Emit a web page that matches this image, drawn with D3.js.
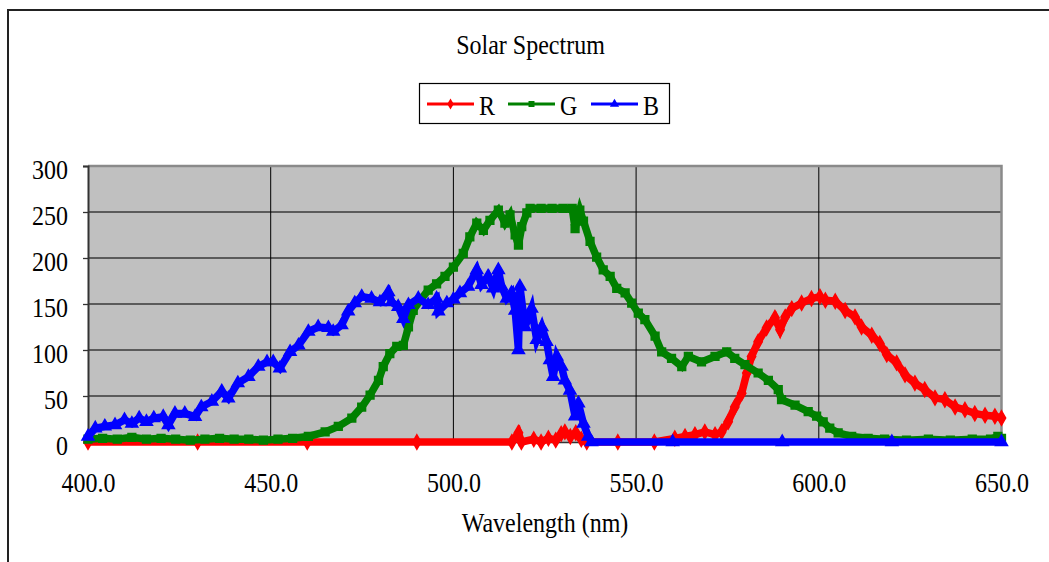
<!DOCTYPE html>
<html>
<head>
<meta charset="utf-8">
<script src="https://cdn.jsdelivr.net/npm/d3@7"></script>
<style>
body { margin: 0; background: #fff; }
svg text { font-family: "Liberation Serif", "Times New Roman", serif; fill: #000; }
</style>
</head>
<body>
<svg id="chart" width="1049" height="562"></svg>
<script>
// values (wavelength nm -> intensity)
const wlR = [400, 430, 460, 490, 516, 517.8, 518.6, 522, 524, 526, 528, 529.5, 530.5, 532, 533.5, 535, 536.5, 545, 555, 560.6, 563.4, 566.1, 568.8, 571.6, 573.4, 575.2, 577, 578.9, 580.3, 581.6, 583.4, 585.7, 588, 589.4, 590.8, 592.6, 595.3, 598, 600.3, 601.8, 604.5, 607.2, 609.9, 611.7, 614.5, 616.7, 618.6, 621.3, 623.6, 626.3, 629, 631.8, 634.5, 637.3, 640, 642.7, 645.5, 648.2, 650]
const valR = [0, 0, 0, 0, 0, 10, 0, 3, 0, 4, 2, 9, 11, 6, 10, 3, 0, 0, 0, 4, 6, 8, 11, 8, 11, 22, 38, 53, 75, 93, 109, 124, 135, 122, 136, 145, 151, 156, 158, 154, 153, 143, 136, 125, 116, 107, 95, 86, 73, 64, 57, 48, 46, 38, 35, 31, 29, 28, 26]

const wlG = [400, 404, 408, 412, 416, 420, 424, 428, 432, 436, 440, 444, 448, 452, 456, 460.3, 464.9, 468.5, 472.2, 474.9, 477.2, 479.5, 480.8, 482.6, 484.5, 486.3, 487.7, 489, 490.9, 493.1, 495.4, 497.7, 500, 502.7, 504.5, 506.4, 508.2, 510, 512.3, 514.1, 515.5, 516.9, 517.8, 518.7, 520.1, 521, 524, 527, 530, 532.5, 533.3, 534.6, 535.6, 537.4, 539.2, 541, 542.9, 544.7, 547, 548.8, 550.6, 552.4, 555.2, 557, 559.7, 562.5, 564.3, 567.9, 571.6, 574.8, 577, 579.8, 583.4, 586.2, 588.9, 589.8, 593.5, 597.1, 599.4, 601.2, 603, 605.3, 609, 613.5, 618, 624, 630, 636, 642, 647, 649, 650]
const valG = [3, 4, 3, 5, 3, 4, 3, 2, 3, 4, 3, 3, 2, 3, 4, 6, 11, 17, 26, 38, 51, 67, 82, 96, 104, 105, 125, 143, 154, 165, 172, 180, 190, 205, 223, 238, 230, 241, 252, 238, 247, 225, 214, 234, 249, 254, 254, 254, 254, 254, 232, 252, 240, 218, 201, 187, 180, 167, 162, 151, 140, 133, 115, 98, 91, 82, 93, 87, 93, 98, 91, 84, 75, 67, 57, 46, 40, 33, 28, 22, 15, 10, 6, 4, 3, 2, 3, 2, 3, 3, 6, 4]

const wlB = [400, 402, 404.6, 407.4, 410, 412, 414, 416, 418, 420.6, 422, 423.8, 426.5, 429.3, 431, 433.9, 436.6, 438.4, 441, 443.9, 446.6, 449, 450.7, 452.5, 455.3, 457.6, 460.3, 463, 465.8, 467.1, 469.4, 471.2, 473, 474.9, 477.6, 479.9, 482.2, 483.1, 484.9, 486.3, 487.7, 490.4, 493.1, 495.4, 495.9, 498.2, 500, 501.8, 504, 506.4, 507.7, 509.5, 510.9, 512.3, 513.2, 514.6, 515.9, 516.9, 517.8, 518.2, 519.6, 521.4, 522.8, 524.2, 525.5, 526.4, 527.3, 528.3, 529.6, 530.5, 531.9, 533.3, 534.2, 535.6, 536.9, 537.8, 560, 590, 620, 650]
const valB = [6, 15, 17, 18.5, 24, 20, 26, 22, 26, 27.5, 18.5, 31, 31, 27.5, 38, 44, 55, 47.5, 64, 71, 82, 87, 87, 80, 98, 105, 120, 125, 124, 120, 127, 142, 151, 158, 156, 152, 163, 152, 147, 134, 149, 156, 149, 156, 142, 151, 155, 162, 169, 187, 171, 180, 167, 187, 169, 156, 162, 143, 100, 169, 125, 145, 111, 125, 109, 89, 71, 93, 82, 67, 56, 28, 42, 20, 6, 0, 0, 0, 0, 0]

const xTicks = [400, 450, 500, 550, 600, 650]
const yTicks = [0, 50, 100, 150, 200, 250, 300]

const series = [
  { name: 'R', wl: wlR, val: valR, color: '#ff0000', shape: d3.symbolDiamond, size: 60 },
  { name: 'G', wl: wlG, val: valG, color: '#008000', shape: d3.symbolSquare, size: 60 },
  { name: 'B', wl: wlB, val: valB, color: '#0000ff', shape: d3.symbolTriangle, size: 62 }
]

const k = 1.1 // the original font is a bit taller than Times
const svg = d3.select('#chart')
const x = d3.scaleLinear().domain([400, 650]).range([88, 1001.5])
const y = d3.scaleLinear().domain([0, 300]).range([442, 166])

// outer chart frame (only top and left edges visible)
svg.append('path').attr('d', 'M8,562V10H1049').attr('fill', 'none').attr('stroke', '#222').attr('stroke-width', 2)

// plot area
svg.append('rect').attr('x', x(400)).attr('y', y(300)).attr('width', x(650) - x(400)).attr('height', y(0) - y(300)).attr('fill', '#c0c0c0')

svg.append('g').selectAll('line').data(yTicks.slice(1, -1)).enter().append('line')
  .attr('x1', x(400)).attr('x2', x(650)).attr('y1', d => y(d)).attr('y2', d => y(d))
  .attr('stroke', '#3a3a3a').attr('stroke-width', 1.3)
svg.append('g').selectAll('line').data(xTicks.slice(1, -1)).enter().append('line')
  .attr('x1', d => x(d)).attr('x2', d => x(d)).attr('y1', y(300)).attr('y2', y(0))
  .attr('stroke', '#000').attr('stroke-width', 1)

// plot border: grey top/right
svg.append('path').attr('d', `M${x(400)},${y(300)}H${x(650)}V${y(0)}`).attr('fill', 'none').attr('stroke', '#8a8a8a').attr('stroke-width', 2.5)

// y axis
const gy = svg.append('g').attr('transform', `translate(${x(400)},0)`)
  .call(d3.axisLeft(y).tickValues(yTicks).tickSize(5).tickPadding(15).tickFormat(d3.format('d')))
gy.select('.domain').attr('stroke', '#333').attr('stroke-width', 2)
gy.selectAll('.tick line').attr('stroke', '#333').attr('stroke-width', 1.3)
gy.selectAll('text').attr('font-size', 24).attr('font-family', 'Liberation Serif')
  .attr('dy', 12 / k).attr('transform', `scale(1,${k})`)

// x axis
const gx = svg.append('g').attr('transform', `translate(0,${y(0)})`)
  .call(d3.axisBottom(x).tickValues(xTicks).tickSize(0).tickFormat(d3.format('.1f')))
gx.select('.domain').attr('stroke', '#333').attr('stroke-width', 1.5)
gx.selectAll('text').attr('font-size', 24).attr('font-family', 'Liberation Serif')
  .attr('y', 50 / k).attr('dy', 0).attr('transform', `scale(1,${k})`)

// series: thick line plus a marker on every point
series.forEach(s => {
  const pts = s.wl.map((w, i) => [w, s.val[i]])
  svg.append('path').datum(pts)
    .attr('d', d3.line().x(d => x(d[0])).y(d => y(d[1])))
    .attr('fill', 'none').attr('stroke', s.color).attr('stroke-width', 7.5).attr('stroke-linejoin', 'miter')
  svg.append('g').selectAll('path').data(pts).enter().append('path')
    .attr('d', d3.symbol().type(s.shape).size(s.size))
    .attr('transform', d => `translate(${x(d[0])},${y(d[1])})`)
    .attr('fill', s.color).attr('stroke', s.color).attr('stroke-width', 1.5)
})

// title and axis title
const label = (t, px, py, anchor) => svg.append('text').text(t)
  .attr('text-anchor', anchor).attr('font-size', 24)
  .attr('transform', `translate(${px},${py}) scale(1,${k})`)
label('Solar Spectrum', 530.5, 54, 'middle')
label('Wavelength (nm)', 545, 532, 'middle')

// legend
svg.append('rect').attr('x', 419.5).attr('y', 83.5).attr('width', 250).attr('height', 40)
  .attr('fill', '#fff').attr('stroke', '#000').attr('stroke-width', 1.2)
const legX = [427, 508, 591]
series.forEach((s, i) => {
  const lx = legX[i]
  svg.append('line').attr('x1', lx).attr('x2', lx + 47).attr('y1', 104).attr('y2', 104)
    .attr('stroke', s.color).attr('stroke-width', 3)
  svg.append('path').attr('d', d3.symbol().type(s.shape).size(s.size * 0.6))
    .attr('transform', `translate(${lx + 23.5},104)`).attr('fill', s.color)
  label(s.name, lx + 52, 115, 'start')
})
</script>
</body>
</html>
